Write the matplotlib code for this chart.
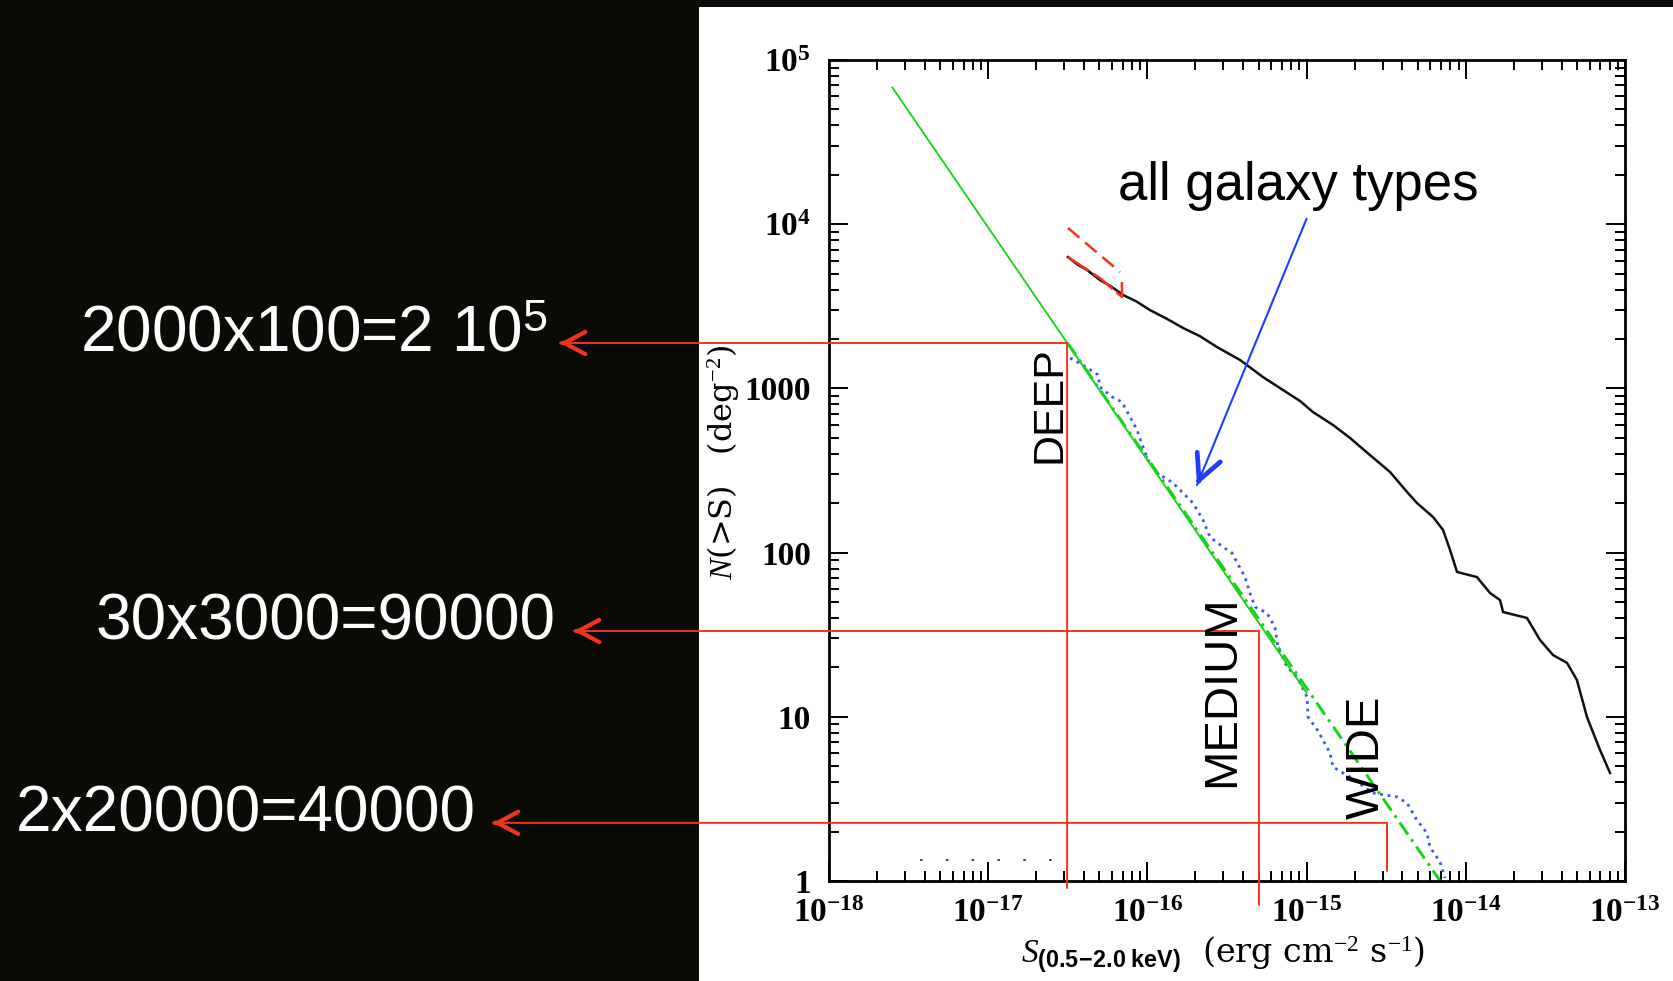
import numpy as np
import matplotlib
matplotlib.use('Agg')
import matplotlib.pyplot as plt
from matplotlib.patches import Rectangle
from matplotlib.ticker import FixedLocator, FixedFormatter, LogLocator, NullFormatter

plt.rcParams['mathtext.fontset'] = 'custom'
plt.rcParams['mathtext.rm'] = 'Liberation Serif'
plt.rcParams['mathtext.it'] = 'Liberation Serif:italic'
plt.rcParams['mathtext.bf'] = 'Liberation Serif:bold'
plt.rcParams['mathtext.sf'] = 'Liberation Sans:bold'

W, H = 1673, 981

# integral counts of all galaxy types (log10 S, log10 N(>S))
gal_logS = [-16.499, -16.440, -16.379, -16.298, -16.230, -16.153, -16.070, -15.984,
            -15.880, -15.776, -15.670, -15.563, -15.418, -15.274, -15.148, -15.041,
            -14.960, -14.834, -14.727, -14.602, -14.476, -14.369, -14.307, -14.206,
            -14.143, -14.099, -14.055, -13.930, -13.848, -13.785, -13.766, -13.616,
            -13.534, -13.452, -13.364, -13.302, -13.239, -13.157, -13.094]
gal_logN = [3.800, 3.755, 3.721, 3.660, 3.622, 3.569, 3.530, 3.477,
            3.425, 3.368, 3.318, 3.252, 3.173, 3.069, 2.990, 2.923,
            2.856, 2.777, 2.698, 2.594, 2.491, 2.369, 2.302, 2.217,
            2.138, 2.016, 1.882, 1.851, 1.754, 1.711, 1.638, 1.602,
            1.468, 1.376, 1.328, 1.224, 0.999, 0.798, 0.658]

# blue dotted counts
dot_logS = [-16.486, -16.405, -16.310, -16.298, -16.222, -16.160, -16.109, -16.065,
            -16.028, -15.996, -15.940, -15.839, -15.776, -15.714, -15.651, -15.607,
            -15.525, -15.469, -15.418, -15.387, -15.356, -15.324, -15.249, -15.199,
            -15.180, -15.123, -15.060, -14.997, -14.991, -14.928, -14.853, -14.834,
            -14.727, -14.583, -14.432, -14.369, -14.307, -14.244, -14.225, -14.162,
            -14.131]
dot_logN = [3.185, 3.142, 3.082, 3.009, 2.948, 2.917, 2.826, 2.747,
            2.643, 2.564, 2.485, 2.424, 2.363, 2.302, 2.199, 2.095,
            2.034, 1.998, 1.906, 1.851, 1.754, 1.669, 1.632, 1.547,
            1.425, 1.303, 1.242, 1.121, 0.999, 0.913, 0.780, 0.694,
            0.633, 0.536, 0.512, 0.475, 0.371, 0.292, 0.207, 0.116,
            0.018]

# power laws
pl_S = [2.5e-18, 1.0e-15]
pl_N = [6.8e4, 14.0]
fit_S = [3.15e-17, 6.9e-15]
fit_N = [1890.0, 1.0]

# red dashed pieces
red1_logS = [-16.499, -16.172]
red1_logN = [3.977, 3.709]
red2_logS = [-16.499, -16.298, -16.160, -16.160]
red2_logN = [3.800, 3.672, 3.557, 3.648]

# survey flux limits and source densities
surveys = ['DEEP', 'MEDIUM', 'WIDE']
survey_S = [3.13e-17, 5.02e-16, 3.2e-15]
survey_N = [1890.0, 33.3, 2.26]
sums = [r'2000x100=2 10$^{\mathregular{5}}$', '30x3000=90000', '2x20000=40000']

x_ticks = [1e-18, 1e-17, 1e-16, 1e-15, 1e-14, 1e-13]
x_labels = [r'$\mathbf{10^{-18}}$', r'$\mathbf{10^{-17}}$', r'$\mathbf{10^{-16}}$',
            r'$\mathbf{10^{-15}}$', r'$\mathbf{10^{-14}}$', r'$\mathbf{10^{-13}}$']
y_ticks = [1, 10, 100, 1000, 1e4, 1e5]
y_labels = ['1', '10', '100', '1000', r'$\mathbf{10^4}$', r'$\mathbf{10^5}$']

RED = '#f5331c'
GREEN = '#14d414'
BLUE = '#1f3cff'


def fx(px):
    return px / W


def fy(py):
    return 1 - py / H


fig = plt.figure(figsize=(W / 100, H / 100), dpi=100, facecolor='white')
fig.add_artist(Rectangle((0, 0), fx(699), 1, facecolor='#0a0b07', edgecolor='none',
                         transform=fig.transFigure, zorder=0))
fig.add_artist(Rectangle((0, fy(7)), 1, 7 / H, facecolor='#0a0b07', edgecolor='none',
                         transform=fig.transFigure, zorder=0))

ax = fig.add_axes([fx(829), fy(881), 796 / W, 821 / H])
ax.set_xscale('log')
ax.set_yscale('log')
ax.set_xlim(1e-18, 1e-13)
ax.set_ylim(1, 1e5)

ax.plot(10 ** np.array(gal_logS), 10 ** np.array(gal_logN), color='#111111', lw=1.8)
ax.plot(10 ** np.array(dot_logS), 10 ** np.array(dot_logN), color='#3a58f5', lw=2.0,
        linestyle=(0, (1, 1.7)))
ax.plot(pl_S, pl_N, color=GREEN, lw=1.3)
ax.plot(fit_S, fit_N, color=GREEN, lw=2.1, linestyle=(0, (5, 2, 1, 2)))
ax.plot(10 ** np.array(red1_logS), 10 ** np.array(red1_logN), color=RED, lw=1.8,
        linestyle=(0, (6, 3)))
ax.plot(10 ** np.array(red2_logS), 10 ** np.array(red2_logN), color=RED, lw=1.8,
        linestyle=(0, (10, 2)))
ax.plot([10 ** -17.43, 10 ** -16.57], [1.34, 1.34], color='#222222', lw=1.2,
        linestyle=(0, (1.5, 14)))

# survey limits: drop line below the axis and arrow out to the left panel
tip_px = [560, 574, 493]
drop_px = [888, 905, 871]
for S, N, tip, drop in zip(survey_S, survey_N, tip_px, drop_px):
    ax.annotate('', xy=(S, fy(drop)), xycoords=('data', 'figure fraction'),
                xytext=(S, N), textcoords='data', annotation_clip=False,
                arrowprops=dict(arrowstyle='-', color=RED, lw=1.4, shrinkA=0, shrinkB=0))
    ax.annotate('', xy=(fx(tip), N), xycoords=('figure fraction', 'data'),
                xytext=(S, N), textcoords='data', annotation_clip=False,
                arrowprops=dict(arrowstyle='-', color=RED, lw=1.4, shrinkA=0, shrinkB=0))
    ax.annotate('', xy=(fx(tip), N), xycoords=('figure fraction', 'data'),
                xytext=(fx(tip + 3), N), textcoords=('figure fraction', 'data'),
                annotation_clip=False,
                arrowprops=dict(arrowstyle='->,head_length=0.75,head_width=0.4',
                                color=RED, lw=3, shrinkA=0, shrinkB=0, mutation_scale=20))

# pointer to the dotted curve
ax.annotate('', xy=(2.05e-16, 258), xytext=(1.0e-15, 1.08e4),
            arrowprops=dict(arrowstyle='-', color=BLUE, lw=1.5, shrinkA=0, shrinkB=0))
ax.annotate('', xy=(2.05e-16, 258), xytext=(10 ** -15.676, 10 ** 2.44),
            arrowprops=dict(arrowstyle='->,head_length=0.9,head_width=0.45', color=BLUE,
                            lw=3.4, shrinkA=0, shrinkB=0, mutation_scale=20))

ax.xaxis.set_major_locator(FixedLocator(x_ticks))
ax.xaxis.set_major_formatter(FixedFormatter(x_labels))
ax.yaxis.set_major_locator(FixedLocator(y_ticks))
ax.yaxis.set_major_formatter(FixedFormatter(y_labels))
ax.xaxis.set_minor_locator(LogLocator(base=10, subs=np.arange(2, 10), numticks=20))
ax.yaxis.set_minor_locator(LogLocator(base=10, subs=np.arange(2, 10), numticks=20))
ax.xaxis.set_minor_formatter(NullFormatter())
ax.yaxis.set_minor_formatter(NullFormatter())
ax.tick_params(which='both', direction='in', top=True, right=True, width=1.4, color='black')
ax.tick_params(which='major', length=14, labelsize=24)
ax.tick_params(which='minor', length=7)
ax.tick_params(axis='x', pad=12)
ax.tick_params(axis='y', pad=13)
for lbl in ax.get_xticklabels() + ax.get_yticklabels():
    lbl.set_family('Liberation Serif')
    lbl.set_weight('bold')
for sp in ax.spines.values():
    sp.set_linewidth(2.0)

fig.text(fx(724), fy(463), r'$N$(>S)   (deg$^{-2}$)', rotation=90, ha='center',
         va='center', fontsize=23, family='DejaVu Serif')
fig.text(fx(1223), fy(955), r'$S_{\mathsf{(0.5\!-\!2.0\ keV)}}$  (erg cm$^{-2}$ s$^{-1}$)',
         ha='center', va='center', fontsize=24, family='DejaVu Serif')

fig.text(fx(1118), fy(200), 'all galaxy types', ha='left', va='baseline', fontsize=38,
         family='Liberation Sans')
label_xy = [(1049, 405), (1222, 691), (1367, 757)]
label_size = [31, 34, 34]
for name, (px, py), size in zip(surveys, label_xy, label_size):
    fig.text(fx(px), fy(py), name, rotation=90, ha='center', va='center', fontsize=size,
             family='Liberation Sans')

sum_xy = [(80, 352), (96, 640), (16, 832)]
for txt, (px, py) in zip(sums, sum_xy):
    fig.text(fx(px), fy(py), txt, ha='left', va='baseline', fontsize=46, color='white',
             family='Liberation Sans')

fig.savefig('out.png', dpi=100, facecolor=fig.get_facecolor())
